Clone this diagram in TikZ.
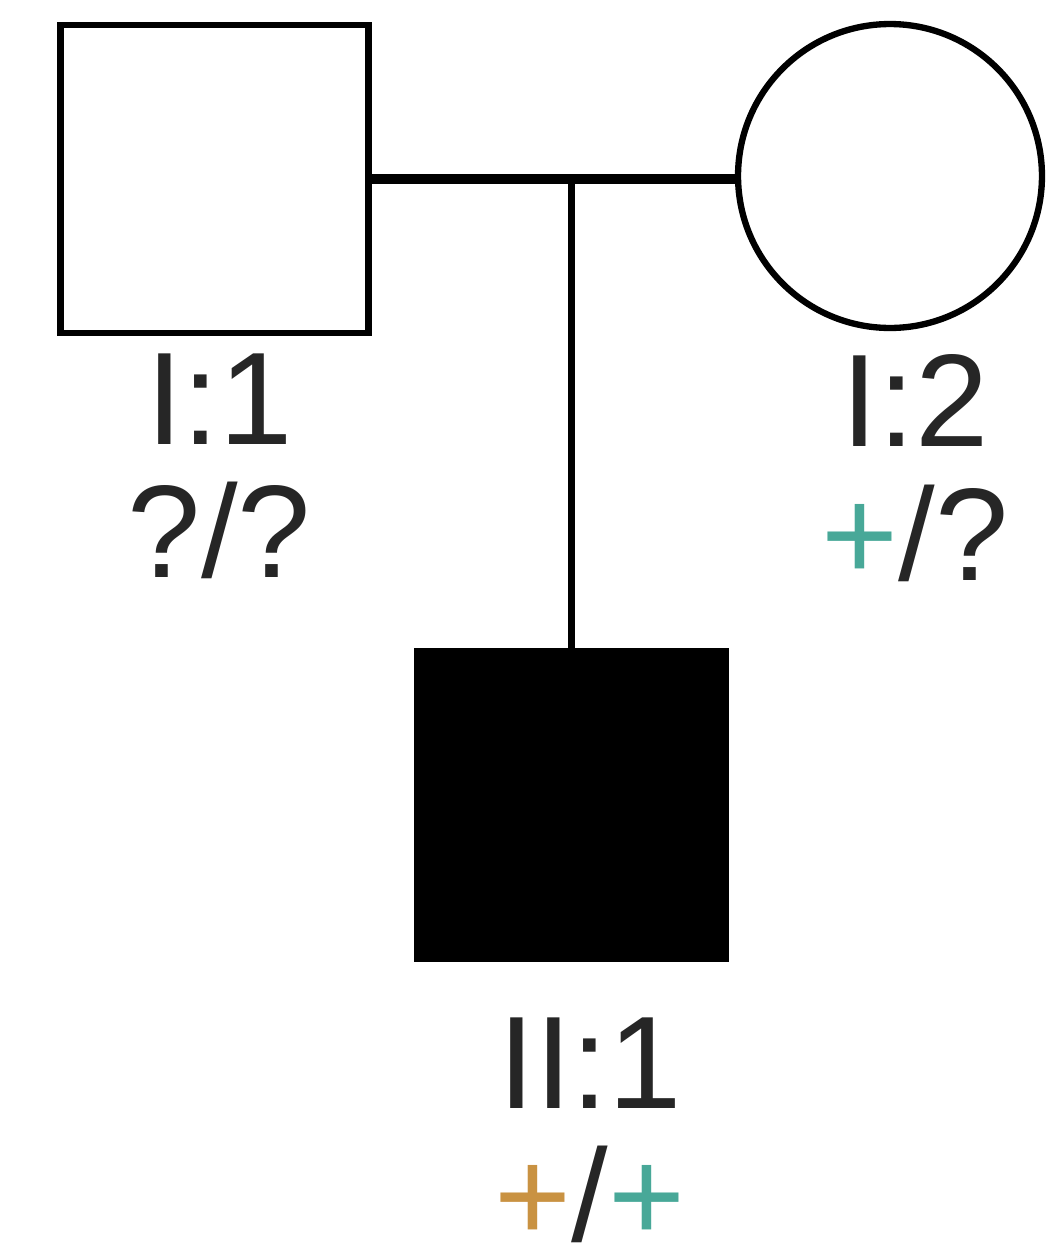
\documentclass[tikz,border=0pt]{standalone}
\usepackage{fontspec}
\setmainfont{Liberation Sans}
\usetikzlibrary{positioning,calc}
\definecolor{allelea}{RGB}{201,146,66}
\definecolor{alleleb}{RGB}{72,168,152}
\tikzset{
  male/.style={draw,rectangle,minimum size=6.16cm,line width=3.9pt,inner sep=0pt},
  female/.style={draw,circle,minimum size=6.08cm,line width=3.6pt,inner sep=0pt},
  affected/.style={fill=black},
  idlabel/.style={align=center,inner sep=0pt,text=black!85,
    font=\fontsize{75}{76}\selectfont},
  matingline/.style={draw,line width=5.6pt},
  descentline/.style={draw,line width=4.4pt},
}

\begin{document}
\begin{tikzpicture}[x=0.02cm,y=-0.02cm]
\useasboundingbox (0,0) rectangle (1062,1258);

\node[male] (i1) at (214.5,179) {};
\node[female] (i2) at (890,176) {};
\node[male,affected] (ii1) at (571.5,805) {};

\node[idlabel,below=0.34cm of i1,xshift=0.1cm] (g1) {I:1\\?/?};
\node[idlabel,below=0.46cm of i2,xshift=0.5cm] (g2) {I:2\\{\color{alleleb}+}/?};
\node[idlabel,below=1.1cm of ii1,xshift=0.37cm] (g3) {II:1\\{\color{allelea}+}/{\color{alleleb}+}};

\coordinate (sib) at (ii1.north |- i1.east);
\path[matingline] (i1.east) -- (i1.east -| i2.west);
\path[descentline] (sib) -- (ii1.north);

\end{tikzpicture}
\end{document}
